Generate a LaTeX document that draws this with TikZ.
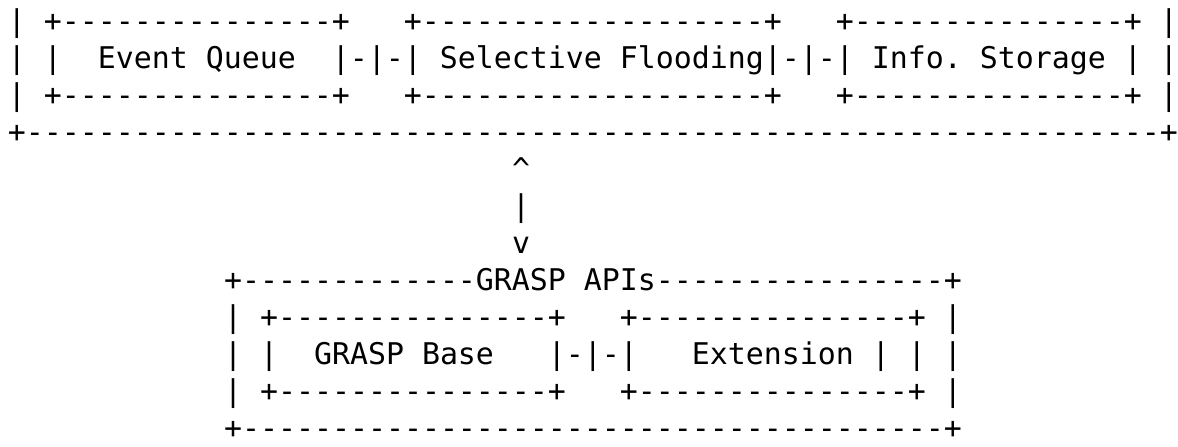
\documentclass[tikz,border=0pt]{standalone}
\usepackage{fontspec}
\setmonofont{DejaVu Sans Mono}
\ExplSyntaxOn
\cs_new:Npn \asciidash #1 { \prg_replicate:nn {#1} {-} }
\ExplSyntaxOff
\tikzset{
  ascii/.style={anchor=base west, inner sep=0pt, outer sep=0pt,
    font=\ttfamily\fontsize{29.9}{36}\selectfont, text=black},
}
\begin{document}
\begin{tikzpicture}[x=1pt,y=1pt]
\useasboundingbox (0,0) rectangle (1178,447);
\fill[white] (0,0) rectangle (1178,447);
% top component
\node[ascii] (r0) at ({8+18*0},{415-37*0}) {|~+\asciidash{15}+~~~+\asciidash{19}+~~~+\asciidash{15}+~|};
\node[ascii] (r1) at ({8+18*0},{415-37*1}) {|~|~~Event~Queue~~|-|-|~Selective~Flooding|-|-|~Info.~Storage~|~|};
\node[ascii] (r2) at ({8+18*0},{415-37*2}) {|~+\asciidash{15}+~~~+\asciidash{19}+~~~+\asciidash{15}+~|};
\node[ascii] (r3) at ({8+18*0},{415-37*3}) {+\asciidash{63}+};
% link
\node[ascii] (r4) at ({8+18*28},{415-37*4}) {\textasciicircum};
\node[ascii] (r5) at ({8+18*28},{415-37*5}) {|};
\node[ascii] (r6) at ({8+18*28},{415-37*6}) {v};
% GRASP APIs
\node[ascii] (r7) at ({8+18*12},{415-37*7}) {+\asciidash{13}GRASP~APIs\asciidash{16}+};
\node[ascii] (r8) at ({8+18*12},{415-37*8}) {|~+\asciidash{15}+~~~+\asciidash{15}+~|};
\node[ascii] (r9) at ({8+18*12},{415-37*9}) {|~|~~GRASP~Base~~~|-|-|~~~Extension~|~|~|};
\node[ascii] (r10) at ({8+18*12},{415-37*10}) {|~+\asciidash{15}+~~~+\asciidash{15}+~|};
\node[ascii] (r11) at ({8+18*12},{415-37*11}) {+\asciidash{39}+};
\end{tikzpicture}
\end{document}
